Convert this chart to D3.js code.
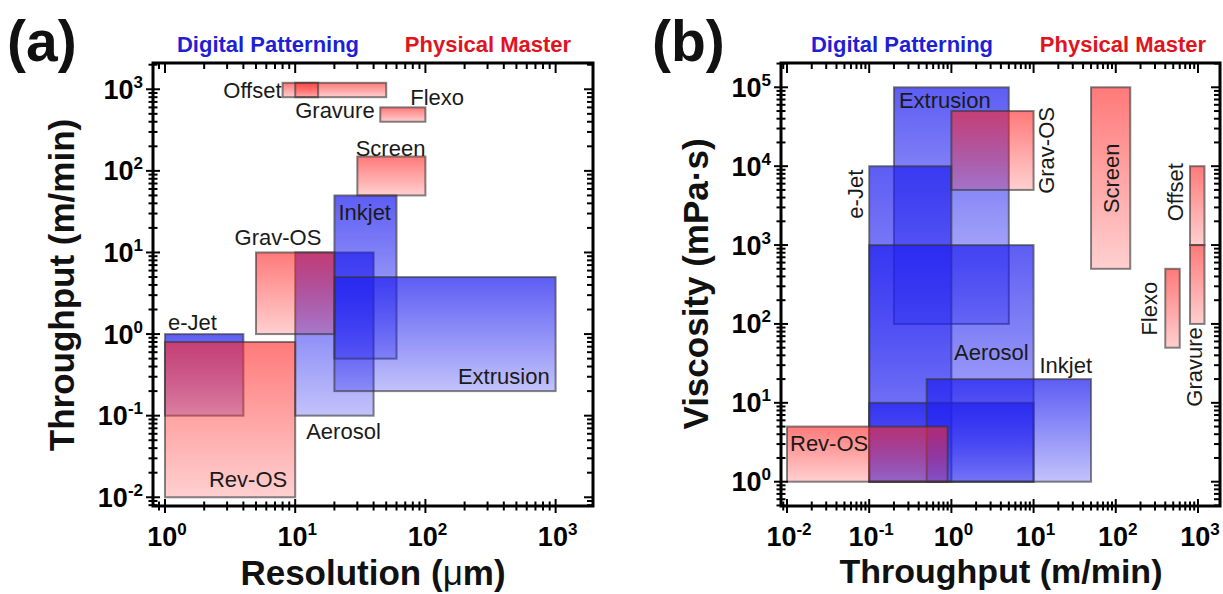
<!DOCTYPE html>
<html>
<head>
<meta charset="utf-8">
<script src="https://cdn.jsdelivr.net/npm/d3@7"></script>
<style>
  html, body { margin: 0; padding: 0; background: #fff; }
  svg { display: block; }
  text { font-family: "Liberation Sans", Arial, Helvetica, sans-serif; }
</style>
</head>
<body>
<svg id="chart" width="1223" height="594"></svg>
<script>
// ---- Panel (a): resolution (µm) vs throughput (m/min) ----
const processesA     = ["e-Jet", "Aerosol", "Inkjet", "Extrusion", "Rev-OS", "Grav-OS", "Screen", "Offset", "Gravure", "Flexo"];
const familyA        = ["digital", "digital", "digital", "digital", "master", "master", "master", "master", "master", "master"];
const resolutionMin  = [1, 10, 20, 20, 1, 5, 30, 8, 10, 45];
const resolutionMax  = [4, 40, 60, 1000, 10, 20, 100, 50, 15, 100];
const throughputMinA = [0.1, 0.1, 0.5, 0.2, 0.01, 1, 50, 800, 800, 400];
const throughputMaxA = [1, 10, 50, 5, 0.8, 10, 150, 1200, 1200, 600];

// ---- Panel (b): throughput (m/min) vs viscosity (mPa·s) ----
const processesB     = ["Extrusion", "e-Jet", "Aerosol", "Aerosol", "Inkjet", "Rev-OS", "Grav-OS", "Screen", "Offset", "Gravure", "Flexo"];
const familyB        = ["digital", "digital", "digital", "digital", "digital", "master", "master", "master", "master", "master", "master"];
const throughputMinB = [0.2, 0.1, 0.1, 0.1, 0.5, 0.01, 1, 50, 800, 800, 400];
const throughputMaxB = [5, 1, 10, 10, 50, 0.9, 10, 150, 1200, 1200, 600];
const viscosityMin   = [100, 1, 1, 1, 1, 1, 5000, 500, 1000, 100, 50];
const viscosityMax   = [1e5, 1e4, 1000, 10, 20, 5, 5e4, 1e5, 1e4, 1000, 500];

// ---- Axis tick labels (powers of ten) ----
const resolutionTicks = [1, 10, 100, 1000];
const throughputTicksA = [0.01, 0.1, 1, 10, 100, 1000];
const throughputTicksB = [0.01, 0.1, 1, 10, 100, 1000];
const viscosityTicks = [1, 10, 100, 1000, 1e4, 1e5];

const svg = d3.select("#chart");
const defs = svg.append("defs");

function addGradient(id, color, topOpacity, bottomOpacity) {
  const g = defs.append("linearGradient").attr("id", id)
    .attr("x1", 0).attr("y1", 0).attr("x2", 0).attr("y2", 1);
  g.append("stop").attr("offset", "0%").attr("stop-color", color).attr("stop-opacity", topOpacity);
  g.append("stop").attr("offset", "100%").attr("stop-color", color).attr("stop-opacity", bottomOpacity);
}
addGradient("gradDigital", "rgb(30,30,240)", 0.72, 0.27);
addGradient("gradMaster", "rgb(255,40,40)", 0.62, 0.22);

function powerLabel(sel, v) {
  const e = Math.round(Math.log10(v));
  sel.append("tspan").text("10");
  sel.append("tspan").attr("dy", -11).attr("font-size", 17).text(String(e));
}

function drawPanel(opt) {
  const x = d3.scaleLog().domain(opt.xDomain).range([opt.left, opt.right]);
  const y = d3.scaleLog().domain(opt.yDomain).range([opt.bottom, opt.top]);
  const g = svg.append("g");

  const rows = opt.names.map((n, i) => ({
    name: n, family: opt.family[i],
    x0: opt.xMin[i], x1: opt.xMax[i], y0: opt.yMin[i], y1: opt.yMax[i]
  }));
  // digital-patterning boxes underneath, physical-master boxes above them
  const ordered = rows.filter(r => r.family === "digital").concat(rows.filter(r => r.family === "master"));

  g.append("g").selectAll("rect").data(ordered).join("rect")
    .attr("x", d => x(d.x0))
    .attr("y", d => y(d.y1))
    .attr("width", d => x(d.x1) - x(d.x0))
    .attr("height", d => y(d.y0) - y(d.y1))
    .attr("fill", d => d.family === "digital" ? "url(#gradDigital)" : "url(#gradMaster)")
    .attr("stroke", "#333")
    .attr("stroke-opacity", 0.6)
    .attr("stroke-width", 2);

  // process names, positioned relative to their boxes
  const seen = new Set();
  rows.forEach(r => {
    if (seen.has(r.name) || !opt.place[r.name]) return;
    seen.add(r.name);
    const b = { x0: x(r.x0), x1: x(r.x1), y0: y(r.y1), y1: y(r.y0) };
    const p = opt.place[r.name](b);
    const t = g.append("text")
      .attr("font-size", 22)
      .attr("fill", "#1a1a1a")
      .attr("text-anchor", p.anchor)
      .text(r.name);
    if (p.rotate) {
      t.attr("transform", `translate(${p.x + 8},${p.y}) rotate(-90)`);
    } else {
      t.attr("x", p.x).attr("y", p.y + 8);
    }
  });

  // ticks: crossing on left/bottom, inward on top/right
  const tk = g.append("g").attr("stroke", "#000").attr("stroke-width", 2);
  const isMajor = v => Math.abs(Math.log10(v) - Math.round(Math.log10(v))) < 1e-9;
  y.ticks().forEach(v => {
    const py = y(v), M = isMajor(v);
    tk.append("line").attr("x1", opt.left - (M ? 7 : 4.5)).attr("x2", opt.left + (M ? 7 : 4.5)).attr("y1", py).attr("y2", py);
    tk.append("line").attr("x1", opt.right).attr("x2", opt.right - (M ? 9 : 6)).attr("y1", py).attr("y2", py);
  });
  x.ticks().forEach(v => {
    const px = x(v), M = isMajor(v);
    tk.append("line").attr("y1", opt.bottom - (M ? 7 : 4.5)).attr("y2", opt.bottom + (M ? 7 : 4.5)).attr("x1", px).attr("x2", px);
    tk.append("line").attr("y1", opt.top).attr("y2", opt.top + (M ? 10 : 6)).attr("x1", px).attr("x2", px);
  });

  // frame
  g.append("rect")
    .attr("x", opt.left).attr("y", opt.top)
    .attr("width", opt.right - opt.left).attr("height", opt.bottom - opt.top)
    .attr("fill", "none").attr("stroke", "#000").attr("stroke-width", 3);

  // tick labels
  opt.yTicks.forEach(v => {
    g.append("text").attr("x", opt.left - 10).attr("y", y(v) + 9.5)
      .attr("text-anchor", "end").attr("font-size", 27).attr("font-weight", "bold")
      .call(powerLabel, v);
  });
  opt.xTicks.forEach(v => {
    g.append("text").attr("x", x(v) + 2).attr("y", opt.bottom + 40)
      .attr("text-anchor", "middle").attr("font-size", 27).attr("font-weight", "bold")
      .call(powerLabel, v);
  });

  // group headings above the frame
  g.append("text").attr("x", opt.digitalX).attr("y", 52).attr("text-anchor", "middle")
    .attr("font-size", 22).attr("font-weight", "bold").attr("fill", "#1f1fd6").text("Digital Patterning");
  g.append("text").attr("x", opt.masterX).attr("y", 52).attr("text-anchor", "middle")
    .attr("font-size", 22).attr("font-weight", "bold").attr("fill", "#e0141e").text("Physical Master");

  // panel letter
  g.append("text").attr("x", opt.letterX).attr("y", 61)
    .attr("font-size", 57).attr("font-weight", "bold").attr("fill", "#111").text(opt.letter);

  // axis titles
  const xt = g.append("text").attr("x", opt.xTitleX).attr("y", opt.xTitleY)
    .attr("text-anchor", "middle").attr("font-size", opt.xTitleSize).attr("font-weight", "bold").attr("fill", "#111");
  opt.xTitle.forEach(part => xt.append("tspan").attr("font-weight", part[1] ? "normal" : "bold").text(part[0]));
  g.append("text")
    .attr("transform", `translate(${opt.yTitleX},${opt.yTitleY}) rotate(-90)`)
    .attr("text-anchor", "middle").attr("font-size", 35).attr("font-weight", "bold").attr("fill", "#111")
    .text(opt.yTitle);
}

drawPanel({
  letter: "(a)", letterX: 7,
  names: processesA, family: familyA,
  xMin: resolutionMin, xMax: resolutionMax, yMin: throughputMinA, yMax: throughputMaxA,
  xDomain: [Math.pow(10, -0.092), Math.pow(10, 3.287)],
  yDomain: [Math.pow(10, -2.107), Math.pow(10, 3.322)],
  left: 153, right: 593, top: 63, bottom: 506,
  xTicks: resolutionTicks, yTicks: throughputTicksA,
  digitalX: 268, masterX: 488,
  xTitle: [["Resolution ("], ["\u03bc", true], ["m)"]], xTitleX: 373, xTitleY: 585, xTitleSize: 35,
  yTitle: "Throughput (m/min)", yTitleX: 74, yTitleY: 285,
  place: {
    "Offset":    b => ({ x: b.x0 - 1,  y: (b.y0 + b.y1) / 2, anchor: "end" }),
    "Gravure":   b => ({ x: b.x0,      y: b.y1 + 13, anchor: "start" }),
    "Flexo":     b => ({ x: b.x0 + 30, y: b.y0 - 10, anchor: "start" }),
    "Screen":    b => ({ x: b.x1,      y: b.y0 - 9,  anchor: "end" }),
    "Inkjet":    b => ({ x: b.x0 + 4,  y: b.y0 + 17, anchor: "start" }),
    "Grav-OS":   b => ({ x: b.x1 - 13, y: b.y0 - 15, anchor: "end" }),
    "e-Jet":     b => ({ x: b.x0 + 3,  y: b.y0 - 12, anchor: "start" }),
    "Extrusion": b => ({ x: b.x1 - 6,  y: b.y1 - 15, anchor: "end" }),
    "Aerosol":   b => ({ x: b.x0 + 11, y: b.y1 + 15, anchor: "start" }),
    "Rev-OS":    b => ({ x: b.x1 - 8,  y: b.y1 - 18, anchor: "end" })
  }
});

drawPanel({
  letter: "(b)", letterX: 652,
  names: processesB, family: familyB,
  xMin: throughputMinB, xMax: throughputMaxB, yMin: viscosityMin, yMax: viscosityMax,
  xDomain: [Math.pow(10, -2.073), Math.pow(10, 3.268)],
  yDomain: [Math.pow(10, -0.308), Math.pow(10, 5.308)],
  left: 781, right: 1220, top: 63, bottom: 506,
  xTicks: throughputTicksB, yTicks: viscosityTicks,
  digitalX: 902, masterX: 1123,
  xTitle: [["Throughput (m/min)"]], xTitleX: 1001, xTitleY: 583, xTitleSize: 34,
  yTitle: "Viscosity (mPa\u00b7s)", yTitleX: 708, yTitleY: 284,
  place: {
    "Extrusion": b => ({ x: b.x0 + 5,  y: b.y0 + 13, anchor: "start" }),
    "Grav-OS":   b => ({ x: b.x1 + 12, y: (b.y0 + b.y1) / 2, anchor: "middle", rotate: true }),
    "e-Jet":     b => ({ x: b.x0 - 14, y: b.y0 + 28, anchor: "middle", rotate: true }),
    "Screen":    b => ({ x: (b.x0 + b.x1) / 2, y: b.y0 + 91, anchor: "middle", rotate: true }),
    "Offset":    b => ({ x: b.x0 - 15, y: b.y0 + 26, anchor: "middle", rotate: true }),
    "Flexo":     b => ({ x: b.x0 - 16, y: b.y1 - 39, anchor: "middle", rotate: true }),
    "Gravure":   b => ({ x: (b.x0 + b.x1) / 2 - 3, y: b.y1 + 43, anchor: "middle", rotate: true }),
    "Aerosol":   b => ({ x: b.x1 - 5,  y: b.y0 + 107, anchor: "end" }),
    "Inkjet":    b => ({ x: b.x1 + 1,  y: b.y0 - 14, anchor: "end" }),
    "Rev-OS":    b => ({ x: b.x0 + 3,  y: b.y0 + 16, anchor: "start" })
  }
});
</script>
</body>
</html>
